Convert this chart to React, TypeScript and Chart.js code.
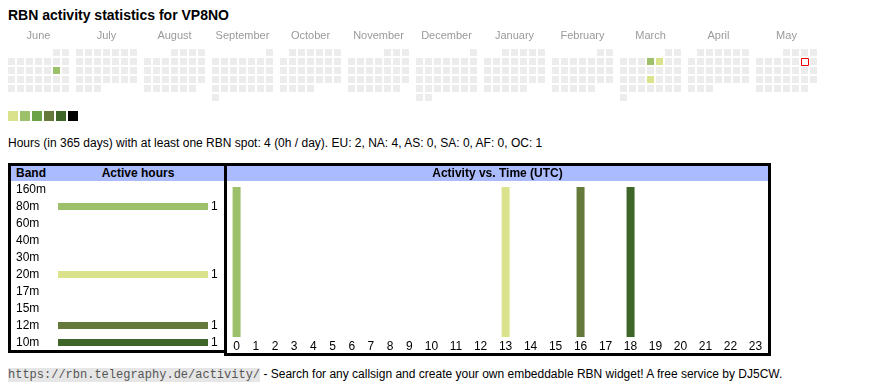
import React, { useEffect, useRef } from 'react';
import { Chart, registerables, CategoryScale } from 'chart.js';

const FONT = '"Liberation Sans", Arial, Helvetica, sans-serif';
const MONO = '"Liberation Mono", "Courier New", monospace';

// ---------------- data ----------------
const TITLE = 'RBN activity statistics for VP8NO';
const MONTH_NAMES = ['June', 'July', 'August', 'September', 'October', 'November', 'December', 'January', 'February', 'March', 'April', 'May'];
const START_YEAR = 2024;
const START_MONTH = 6; // June (1-based)
const ACTIVE_DAYS = ['2024-06-15', '2025-03-06', '2025-03-07', '2025-03-20'];
const ACTIVE_LEVELS = [2, 2, 1, 1];
const TODAY = '2025-05-10';
const LEVEL_COLORS = ['#dae28c', '#9dc06a', '#6aa348', '#657a3a', '#3e6628', '#000000'];
const STATS_TEXT = 'Hours (in 365 days) with at least one RBN spot: 4 (0h / day). EU: 2, NA: 4, AS: 0, SA: 0, AF: 0, OC: 1';

const BANDS = ['160m', '80m', '60m', '40m', '30m', '20m', '17m', '15m', '12m', '10m'];
const BAND_ACTIVE_HOURS = [0, 1, 0, 0, 0, 1, 0, 0, 1, 1];
const BAND_COLORS = ['#6aa348', '#9dc06a', '#6aa348', '#657a3a', '#3e6628', '#dae28c', '#9dc06a', '#6aa348', '#657a3a', '#3e6628'];

const HOURS = ['0', '1', '2', '3', '4', '5', '6', '7', '8', '9', '10', '11', '12', '13', '14', '15', '16', '17', '18', '19', '20', '21', '22', '23'];
const SPOT_HOURS = [0, 13, 16, 18];
const SPOT_BANDS = ['80m', '20m', '12m', '10m'];

const FOOTER_URL = 'https://rbn.telegraphy.de/activity/';
const FOOTER_TEXT = ' - Search for any callsign and create your own embeddable RBN widget! A free service by DJ5CW.';

// ---------------- layout constants ----------------
const CELL_PITCH = 9;
const CELL_SIZE = 7;
const MONTH_PITCH = 68;
const BLOCK_W = 7 * CELL_PITCH - 2;
const GRID_TOP = 23;
const MONTH_LABEL_Y = 9.5;
const LEGEND_TOP = 85;
const LEGEND_SIZE = 10;
const LEGEND_PITCH = 12;
const HOUR_CELL_PAD = 15.4;

// table-like category scale: column widths follow the label widths (auto table layout)
class HourScale extends CategoryScale {
  static id = 'hourcat';
  static defaults = {};
  _centers: number[] = [];
  _total = 1;
  configure() {
    super.configure();
    const labels = this.getLabels();
    const ctx = this.ctx;
    ctx.save();
    ctx.font = `12px ${FONT}`;
    let acc = 0;
    this._centers = labels.map((l: any) => {
      const w = ctx.measureText(String(l)).width + HOUR_CELL_PAD;
      const c = acc + w / 2;
      acc += w;
      return c;
    });
    ctx.restore();
    this._total = acc || 1;
  }
  getPixelForValue(value: any, index?: number) {
    let v = value;
    if (typeof v !== 'number') v = this.parse(v);
    if (v === null || v === undefined || isNaN(v)) return NaN;
    const c = this._centers ? this._centers[Math.round(v)] : undefined;
    if (c === undefined) return super.getPixelForValue(value, index);
    return this.left + (c / this._total) * this.width;
  }
}

Chart.register(...registerables, HourScale as any);
Chart.defaults.font.family = FONT;

const pad2 = (n: number) => (n < 10 ? '0' + n : String(n));

function buildCalendar() {
  const grey: any[] = [];
  const active: any[] = [];
  const activeColors: string[] = [];
  const today: any[] = [];
  for (let m = 0; m < MONTH_NAMES.length; m++) {
    const mi = START_MONTH - 1 + m;
    const y = START_YEAR + Math.floor(mi / 12);
    const mo = mi % 12;
    const first = (new Date(Date.UTC(y, mo, 1)).getUTCDay() + 6) % 7;
    const days = new Date(Date.UTC(y, mo + 1, 0)).getUTCDate();
    for (let d = 1; d <= days; d++) {
      const wd = (first + d - 1) % 7;
      const row = Math.floor((first + d - 1) / 7);
      const key = `${y}-${pad2(mo + 1)}-${pad2(d)}`;
      const pt = { x: m * MONTH_PITCH + wd * CELL_PITCH + CELL_SIZE / 2, y: GRID_TOP + row * CELL_PITCH + CELL_SIZE / 2 };
      const ai = ACTIVE_DAYS.indexOf(key);
      if (key === TODAY) today.push({ x: pt.x + 0.5, y: pt.y + 0.5 });
      else if (ai >= 0) {
        active.push(pt);
        activeColors.push(LEVEL_COLORS[ACTIVE_LEVELS[ai] - 1]);
      } else grey.push(pt);
    }
  }
  const legend = LEVEL_COLORS.map((_, i) => ({ x: i * LEGEND_PITCH + LEGEND_SIZE / 2, y: LEGEND_TOP + LEGEND_SIZE / 2 }));
  return { grey, active, activeColors, today, legend };
}

const rectR = (side: number) => side / 2 / Math.SQRT1_2;

const monthLabelPlugin = {
  id: 'monthLabels',
  afterDraw(chart: any) {
    const { ctx, scales } = chart;
    ctx.save();
    ctx.font = `11px ${FONT}`;
    ctx.fillStyle = '#9a9a9a';
    ctx.textAlign = 'center';
    ctx.textBaseline = 'middle';
    MONTH_NAMES.forEach((name, m) => {
      ctx.fillText(name, scales.x.getPixelForValue(m * MONTH_PITCH + BLOCK_W / 2), scales.y.getPixelForValue(MONTH_LABEL_Y));
    });
    ctx.restore();
  },
};

const valueLabelPlugin = {
  id: 'valueLabels',
  afterDatasetsDraw(chart: any) {
    const { ctx } = chart;
    const meta = chart.getDatasetMeta(0);
    const data = chart.data.datasets[0].data;
    ctx.save();
    ctx.font = `12px ${FONT}`;
    ctx.fillStyle = '#000';
    ctx.textAlign = 'left';
    ctx.textBaseline = 'middle';
    meta.data.forEach((el: any, i: number) => {
      if (data[i] > 0) ctx.fillText(String(data[i]), el.x + 3, el.y);
    });
    ctx.restore();
  },
};

function ChartCanvas({ make, left, top, width, height }: any) {
  const ref = useRef<HTMLCanvasElement>(null);
  useEffect(() => {
    const chart = new Chart(ref.current as HTMLCanvasElement, make());
    return () => chart.destroy();
  }, []);
  return (
    <canvas
      ref={ref}
      width={width}
      height={height}
      style={{ position: 'absolute', left, top, width, height }}
    />
  );
}

function calendarConfig(): any {
  const c = buildCalendar();
  const base = { pointStyle: 'rect', pointBorderWidth: 0, clip: false };
  return {
    type: 'scatter',
    data: {
      datasets: [
        { ...base, data: c.grey, pointBackgroundColor: '#ececec', pointRadius: rectR(CELL_SIZE) },
        { ...base, data: c.active, pointBackgroundColor: c.activeColors, pointRadius: rectR(CELL_SIZE) },
        { ...base, data: c.today, pointBackgroundColor: 'rgba(0,0,0,0)', pointBorderColor: '#ee0000', pointBorderWidth: 1, pointRadius: rectR(CELL_SIZE) },
        { ...base, data: c.legend, pointBackgroundColor: LEVEL_COLORS, pointRadius: rectR(LEGEND_SIZE) },
      ],
    },
    options: {
      responsive: false,
      animation: false,
      events: [],
      layout: { padding: 0, autoPadding: false },
      scales: {
        x: { type: 'linear', min: 0, max: 820, display: false },
        y: { type: 'linear', min: 0, max: 100, reverse: true, display: false },
      },
      plugins: { legend: { display: false }, tooltip: { enabled: false } },
    },
    plugins: [monthLabelPlugin],
  };
}

function bandConfig(): any {
  return {
    type: 'bar',
    data: {
      labels: BANDS,
      datasets: [{ data: BAND_ACTIVE_HOURS.map((v) => (v > 0 ? v : null)), backgroundColor: BAND_COLORS, barThickness: 7, borderWidth: 0, inflateAmount: 0 }],
    },
    options: {
      indexAxis: 'y',
      responsive: false,
      animation: false,
      events: [],
      layout: { padding: { left: 5, right: 16, top: 0, bottom: 0 }, autoPadding: false },
      scales: {
        x: { display: false, min: 0, max: Math.max(...BAND_ACTIVE_HOURS) },
        y: {
          grid: { display: false, drawTicks: false },
          border: { display: false },
          ticks: { crossAlign: 'far', color: '#000', font: { family: FONT, size: 12 }, padding: 0, autoSkip: false },
          afterFit: (s: any) => { s.width = 42; s.paddingTop = 0; s.paddingBottom = 0; },
        },
      },
      plugins: { legend: { display: false }, tooltip: { enabled: false } },
    },
    plugins: [valueLabelPlugin],
  };
}

function timeConfig(): any {
  const datasets = BANDS.map((band, bi) => ({
    label: band,
    data: HOURS.map((_, h) => {
      const n = SPOT_HOURS.filter((sh, k) => sh === h && SPOT_BANDS[k] === band).length;
      return n > 0 ? n : null;
    }),
    backgroundColor: BAND_COLORS[bi],
    barThickness: 8,
    borderWidth: 0,
    inflateAmount: 0,
    stack: 'hours',
  }));
  const totals = HOURS.map((_, h) => SPOT_HOURS.filter((sh) => sh === h).length);
  return {
    type: 'bar',
    data: { labels: HOURS, datasets },
    options: {
      responsive: false,
      animation: false,
      events: [],
      layout: { padding: { left: 0, right: 0, top: 6, bottom: 0 }, autoPadding: false },
      scales: {
        x: {
          type: 'hourcat',
          stacked: true,
          grid: { display: false, drawTicks: false },
          border: { display: false },
          ticks: { color: '#000', font: { family: FONT, size: 12 }, padding: 2, autoSkip: false, maxRotation: 0 },
          afterFit: (s: any) => { s.height = 16; s.paddingLeft = 0; s.paddingRight = 0; },
        },
        y: { display: false, stacked: true, min: 0, max: Math.max(...totals) },
      },
      plugins: { legend: { display: false }, tooltip: { enabled: false } },
    },
  };
}

const abs = (left: number, top: number, extra: any = {}) => ({ position: 'absolute' as const, left, top, ...extra });

export default function App() {
  return (
    <div style={{ position: 'absolute', left: 0, top: 0, width: 870, height: 390, fontFamily: FONT, color: '#000', background: '#fff' }}>
      <div style={abs(8, 7, { fontSize: 14, fontWeight: 'bold', lineHeight: '16px', whiteSpace: 'nowrap' })}>{TITLE}</div>

      <ChartCanvas make={calendarConfig} left={8} top={26} width={820} height={100} />

      <div style={abs(8, 136, { fontSize: 12, lineHeight: '14px', whiteSpace: 'nowrap' })}>{STATS_TEXT}</div>

      {/* left table */}
      <div style={abs(11, 166, { width: 213, height: 15, background: '#aabbff' })} />
      <div style={abs(16, 166, { fontSize: 12, fontWeight: 'bold', lineHeight: '15px' })}>Band</div>
      <div style={abs(51, 166, { width: 174, textAlign: 'center', fontSize: 12, fontWeight: 'bold', lineHeight: '15px' })}>Active hours</div>
      <ChartCanvas make={bandConfig} left={11} top={181} width={213} height={170} />
      <div style={abs(8, 163, { width: 219, height: 190, border: '3px solid #000', boxSizing: 'border-box' })} />

      {/* right table */}
      <div style={abs(227, 166, { width: 541, height: 15, background: '#aabbff' })} />
      <div style={abs(227, 166, { width: 541, textAlign: 'center', fontSize: 12, fontWeight: 'bold', lineHeight: '15px' })}>Activity vs. Time (UTC)</div>
      <ChartCanvas make={timeConfig} left={227} top={181} width={541} height={172} />
      <div style={abs(224, 163, { width: 547, height: 193, border: '3px solid #000', boxSizing: 'border-box' })} />

      <div style={abs(8, 367, { fontSize: 12, lineHeight: '14px', whiteSpace: 'nowrap' })}>
        <span style={{ fontFamily: MONO, background: '#e6e6e6', color: '#555' }}>{FOOTER_URL}</span>
        {FOOTER_TEXT}
      </div>
    </div>
  );
}
